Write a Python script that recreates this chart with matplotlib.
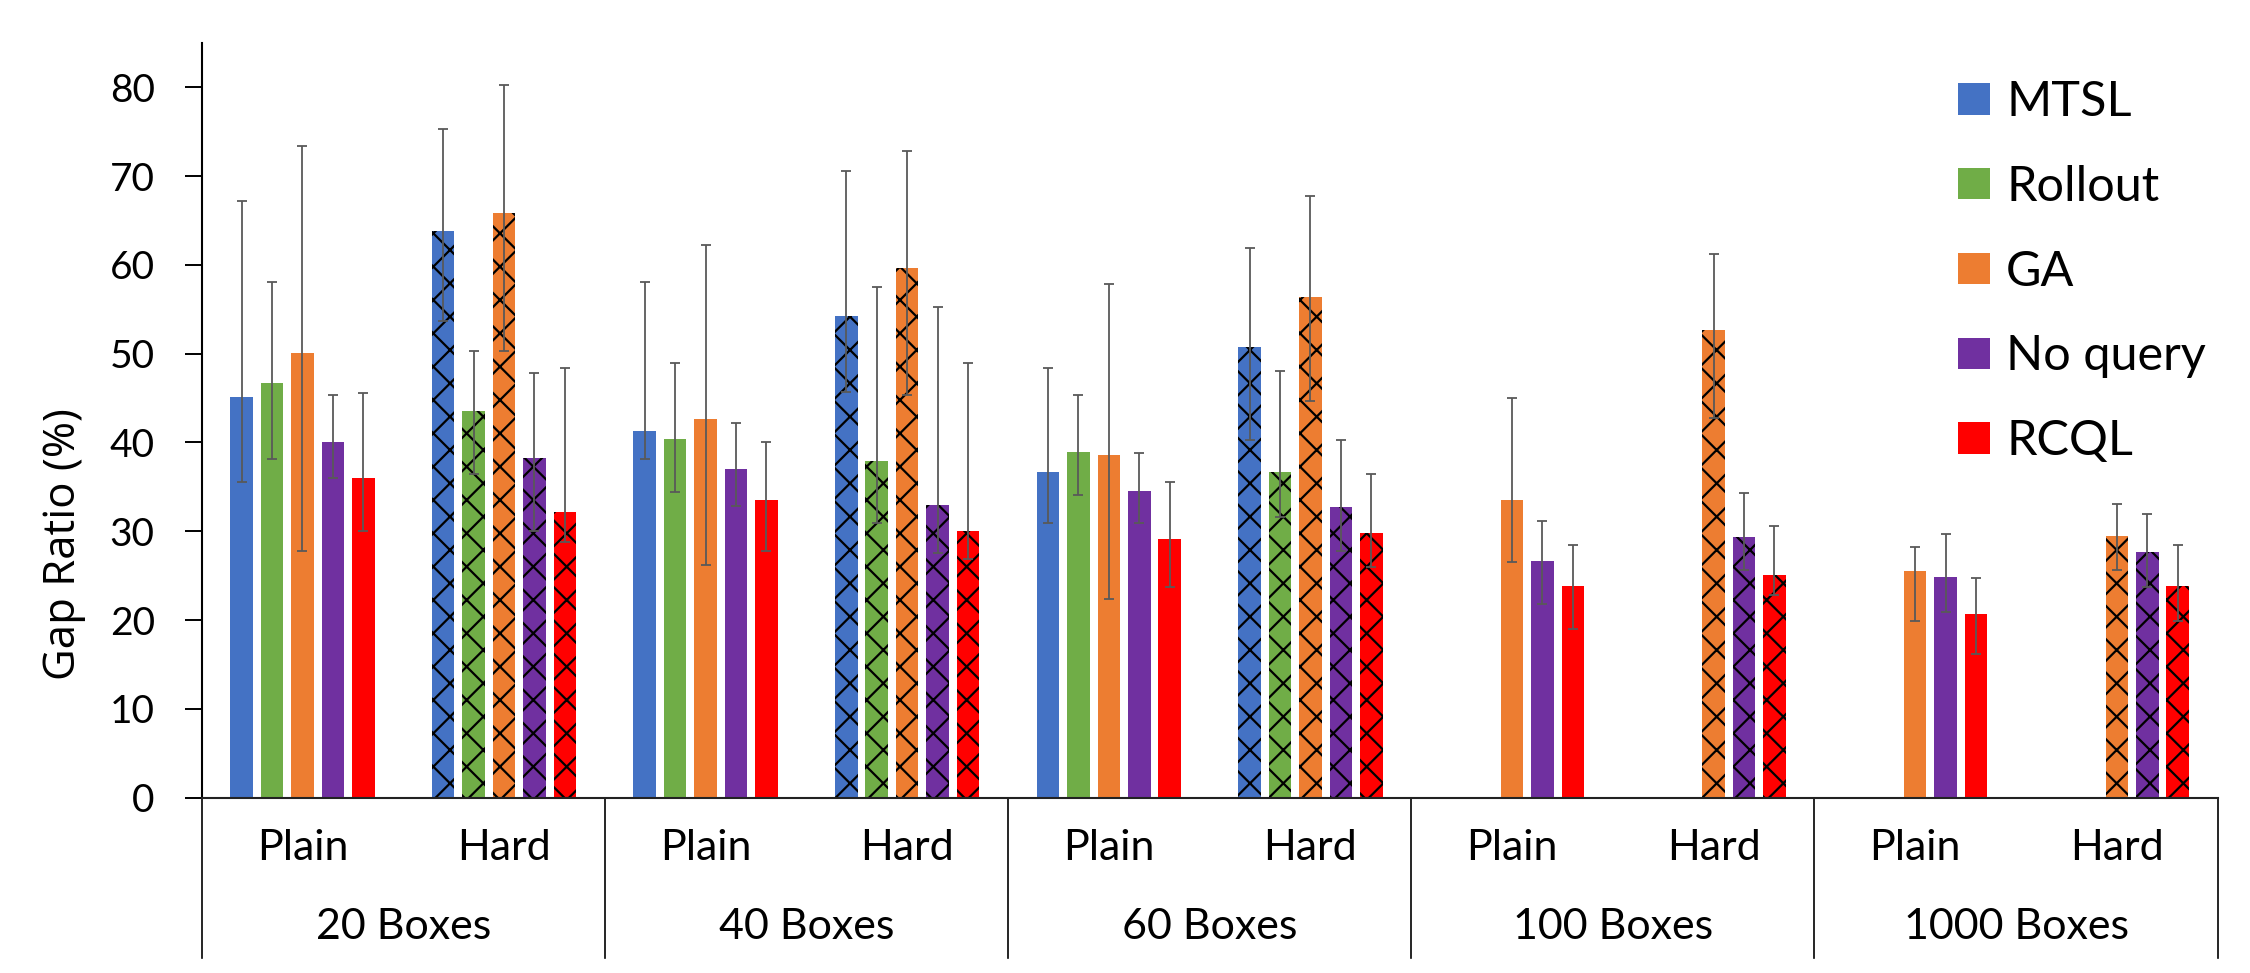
import numpy as np
import matplotlib
matplotlib.use("Agg")
import matplotlib.pyplot as plt
from matplotlib.patches import Patch

nan = np.nan
groups = ["20 Boxes", "40 Boxes", "60 Boxes", "100 Boxes", "1000 Boxes"]
subcats = ["Plain", "Hard"]
series = ["MTSL", "Rollout", "GA", "No query", "RCQL"]
colors = ["#4472C4", "#70AD47", "#ED7D31", "#7030A0", "#FF0000"]

# values per category: 20P, 20H, 40P, 40H, 60P, 60H, 100P, 100H, 1000P, 1000H
mtsl = [45.1, 63.8, 41.3, 54.2, 36.7, 50.8, nan, nan, nan, nan]
mtsl_hi = [67.2, 75.3, 58.1, 70.6, 48.4, 61.9, nan, nan, nan, nan]
mtsl_lo = [35.6, 53.7, 38.1, 45.7, 30.9, 40.3, nan, nan, nan, nan]

rollout = [46.7, 43.5, 40.4, 37.9, 38.9, 36.7, nan, nan, nan, nan]
rollout_hi = [58.1, 50.3, 49.0, 57.5, 45.3, 48.1, nan, nan, nan, nan]
rollout_lo = [38.1, 36.5, 34.4, 30.9, 34.1, 31.6, nan, nan, nan, nan]

ga = [50.1, 65.8, 42.6, 59.6, 38.6, 56.4, 33.5, 52.7, 25.5, 29.5]
ga_hi = [73.4, 80.3, 62.2, 72.8, 57.8, 67.8, 45.0, 61.2, 28.2, 33.1]
ga_lo = [27.8, 50.3, 26.2, 45.3, 22.4, 44.7, 26.5, 42.8, 19.9, 25.6]

noquery = [40.1, 38.3, 37.0, 33.0, 34.5, 32.7, 26.7, 29.3, 24.8, 27.7]
noquery_hi = [45.3, 47.8, 42.2, 55.3, 38.8, 40.3, 31.2, 34.3, 29.7, 31.9]
noquery_lo = [36.0, 30.0, 32.8, 27.6, 30.9, 27.8, 21.8, 25.6, 20.9, 23.7]

rcql = [36.0, 32.2, 33.5, 30.0, 29.1, 29.8, 23.8, 25.1, 20.7, 23.8]
rcql_hi = [45.6, 48.4, 40.0, 49.0, 35.6, 36.5, 28.4, 30.6, 24.7, 28.5]
rcql_lo = [30.0, 28.8, 27.8, 26.9, 23.7, 26.0, 19.0, 22.8, 16.2, 19.9]

vals = [mtsl, rollout, ga, noquery, rcql]
his = [mtsl_hi, rollout_hi, ga_hi, noquery_hi, rcql_hi]
los = [mtsl_lo, rollout_lo, ga_lo, noquery_lo, rcql_lo]

plt.rcParams['hatch.color'] = 'black'
plt.rcParams['hatch.linewidth'] = 1.6

W, H = 2250, 973
fig = plt.figure(figsize=(W / 100, H / 100), dpi=100)
ax_l, ax_r, ax_t, ax_b = 201.6, 2217.6, 43.0, 797.6
ax = fig.add_axes([ax_l / W, 1 - ax_b / H, (ax_r - ax_l) / W, (ax_b - ax_t) / H])

ncat = len(groups) * len(subcats)
x = np.arange(ncat)
step = 0.151
bw = 0.112
for i, (name, col) in enumerate(zip(series, colors)):
    v = np.array(vals[i], dtype=float)
    hi = np.array(his[i], dtype=float)
    lo = np.array(los[i], dtype=float)
    xs = x + (i - 2) * step
    hatches = ['' if k % 2 == 0 else 'x' for k in range(ncat)]
    for k in range(ncat):
        if np.isnan(v[k]):
            continue
        ax.bar(xs[k], v[k], width=bw, color=col, hatch=hatches[k], linewidth=0, zorder=2)
    mask = ~np.isnan(v)
    ax.errorbar(xs[mask], v[mask], yerr=[v[mask] - lo[mask], hi[mask] - v[mask]],
                fmt='none', ecolor='#595959', elinewidth=1.3, capsize=3.4, capthick=1.3, zorder=3)

ax.set_xlim(-0.5, ncat - 0.5)
ax.set_ylim(0, 85)
ax.set_yticks(np.arange(0, 81, 10))
ax.tick_params(axis='y', direction='out', length=12.2, width=1.4, pad=21.5, colors='black')
for lab in ax.get_yticklabels():
    lab.set_fontfamily('Lato')
    lab.set_fontsize(28)
ax.set_xticks([])
for s in ['top', 'right']:
    ax.spines[s].set_visible(False)
ax.spines['left'].set_linewidth(1.5)
ax.spines['bottom'].set_linewidth(1.5)
ax.spines['bottom'].set_color('#222222')

axh = ax_b - ax_t
trans = ax.get_xaxis_transform()
for k in range(ncat):
    ax.text(x[k], -50.4 / axh, subcats[k % 2], transform=trans, ha='center', va='center',
            fontsize=31, fontfamily='Lato')
for g, gname in enumerate(groups):
    ax.text(2 * g + 0.5, -129.4 / axh, gname, transform=trans, ha='center', va='center',
            fontsize=31, fontfamily='Lato')
for b in np.arange(-0.5, ncat, 2):
    ax.plot([b, b], [0, -160.4 / axh], transform=trans, color='black', lw=1.2, clip_on=False)

fig.text(64 / W, 1 - 544 / H, "Gap Ratio (%)", rotation=90, ha='center', va='center',
         fontsize=31.5, fontfamily='Open Sans')

handles = [Patch(facecolor=c, label=n) for n, c in zip(series, colors)]
leg = fig.legend(handles=handles, loc='upper left', bbox_to_anchor=(1958 / W, 1 - 80 / H),
                 frameon=False, prop={'family': 'Lato', 'size': 35}, borderpad=0,
                 borderaxespad=0, handlelength=0.66, handleheight=0.62, handletextpad=0.33,
                 labelspacing=0.84)

fig.savefig("out.png", dpi=100)
